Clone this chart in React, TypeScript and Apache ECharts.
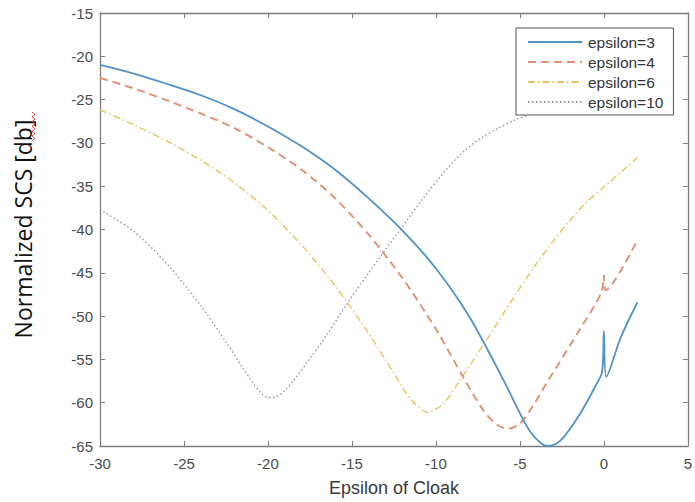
import React, { useEffect, useRef } from "react";
import * as echarts from "echarts";

// epsilon = 3 (solid blue)
const xEps3 = [-30, -28, -26, -24, -22, -20, -18, -16, -14, -12, -10, -8, -6, -5, -4.4, -3.9, -3.4, -2.9, -2.4, -1.45, -0.45, -0.1, 0, 0.15, 1, 2];
const yEps3 = [-21, -22.0, -23.2, -24.5, -26.1, -28.1, -30.4, -33.1, -36.4, -40.1, -44.5, -50.1, -57.3, -61.2, -63.3, -64.4, -65, -64.8, -64, -61.4, -57.9, -56.4, -51.7, -57, -52.5, -48.4];

// epsilon = 4 (dashed red)
const xEps4 = [-30, -28, -26, -24, -22, -20, -18, -16, -14, -12, -10, -8.3, -7.2, -6.4, -5.7, -5, -4.2, -3.4, -1.45, -0.15, 0, 0.1, 2];
const yEps4 = [-22.5, -23.7, -25.1, -26.6, -28.3, -30.5, -33.1, -36.4, -40.6, -45.6, -51.5, -57.3, -60.8, -62.5, -63, -62.4, -60.3, -57.7, -51.6, -47.3, -45.3, -47, -41.2];

// epsilon = 6 (dash-dot yellow)
const xEps6 = [-30, -28, -26, -24, -22, -20, -18, -16, -14, -12.5, -11.5, -10.5, -9.6, -8.6, -7.1, -5.35, -4, -3, -2, -1, 0, 2];
const yEps6 = [-26.2, -27.9, -29.8, -32, -34.6, -37.8, -41.8, -46.5, -52, -56.6, -59.6, -61.1, -60.2, -57.5, -53.1, -47.8, -43.9, -41.3, -38.9, -36.8, -35.1, -31.7];

// epsilon = 10 (dotted purple)
const xEps10 = [-30, -28, -26, -24, -22.5, -21.5, -21, -20.5, -20, -19.5, -19, -18.5, -17.5, -16.5, -15.4, -14, -12.2, -10.8, -9.3, -8.3, -7.35, -6.3, -5.35, -3.8, -2, 0, 2];
const yEps10 = [-37.7, -40.2, -44, -48.8, -53, -56, -57.4, -58.7, -59.4, -59.3, -58.6, -57.5, -54.9, -52.2, -48.9, -45, -40.2, -36.5, -32.9, -30.9, -29.5, -28.3, -27.4, -26.2, -24.5, -22.8, -21.3];

const seriesNames = ["epsilon=3", "epsilon=4", "epsilon=6", "epsilon=10"];
const xTitle = "Epsilon of Cloak";
const yTitle = "Normalized SCS [db]";

const pairs = (xs: number[], ys: number[]) => xs.map((x, i) => [x, ys[i]]);

export default function App() {
  const ref = useRef<HTMLDivElement>(null);
  useEffect(() => {
    if (!ref.current) return;
    const chart = echarts.init(ref.current, null, { renderer: "svg" });
    const axisColor = "#7d7d7d";
    const labelFont = "Liberation Sans, Arial, sans-serif";
    const xBase = {
      type: "value" as const,
      min: -30,
      max: 5,
      interval: 5,
      splitLine: { show: false },
      axisLine: { show: true, onZero: false, lineStyle: { color: axisColor, width: 1.3 } },
      axisTick: { show: true, inside: true, length: 5, lineStyle: { color: axisColor, width: 1 } },
    };
    const yBase = {
      type: "value" as const,
      min: -65,
      max: -15,
      interval: 5,
      splitLine: { show: false },
      axisLine: { show: true, onZero: false, lineStyle: { color: axisColor, width: 1.3 } },
      axisTick: { show: true, inside: true, length: 5, lineStyle: { color: axisColor, width: 1 } },
    };
    const squiggle: number[][] = [];
    for (let i = 0; i <= 12; i++) squiggle.push([i % 2 === 0 ? 32 : 35, 112 + i * 2.4]);

    chart.setOption({
      animation: false,
      backgroundColor: "#ffffff",
      grid: { left: 100, right: 5, top: 13, bottom: 56, containLabel: false },
      xAxis: [
        {
          ...xBase,
          position: "bottom",
          axisLabel: { color: "#4a4a4a", fontSize: 15, fontFamily: labelFont, margin: 10 },
          name: xTitle,
          nameLocation: "middle",
          nameGap: 33,
          nameTextStyle: { fontSize: 18, color: "#3a3a3a", fontFamily: labelFont },
        },
        { ...xBase, position: "top", axisLabel: { show: false } },
      ],
      yAxis: [
        {
          ...yBase,
          position: "left",
          axisLabel: { color: "#4a4a4a", fontSize: 15, fontFamily: labelFont, margin: 7 },
        },
        { ...yBase, position: "right", axisLabel: { show: false } },
      ],
      legend: {
        orient: "vertical",
        left: 516,
        top: 28,
        padding: [6, 10, 5, 11],
        itemWidth: 54,
        itemHeight: 14,
        itemGap: 4,
        backgroundColor: "#ffffff",
        borderColor: "#555555",
        borderWidth: 1,
        borderRadius: 0,
        itemStyle: { opacity: 0 },
        textStyle: { fontSize: 15.5, color: "#333333", fontFamily: labelFont, padding: [0, 0, 0, 1] },
        data: seriesNames,
      },
      series: [
        {
          name: seriesNames[0],
          type: "line",
          data: pairs(xEps3, yEps3),
          symbol: "none",
          smooth: 0.3,
          lineStyle: { color: "#5091c6", width: 1.8, type: "solid" },
          itemStyle: { color: "#5091c6" },
          z: 5,
        },
        {
          name: seriesNames[1],
          type: "line",
          data: pairs(xEps4, yEps4),
          symbol: "none",
          smooth: 0.3,
          lineStyle: { color: "#e08f74", width: 1.9, type: [8, 5] },
          itemStyle: { color: "#e08f74" },
          z: 4,
        },
        {
          name: seriesNames[2],
          type: "line",
          data: pairs(xEps6, yEps6),
          symbol: "none",
          smooth: 0.3,
          lineStyle: { color: "#e6c35c", width: 1.4, type: [7, 3, 1.5, 3] },
          itemStyle: { color: "#e6c35c" },
          z: 3,
        },
        {
          name: seriesNames[3],
          type: "line",
          data: pairs(xEps10, yEps10),
          symbol: "none",
          smooth: 0.3,
          lineStyle: { color: "#8f8aae", width: 1.3, type: [1.5, 2.5] },
          itemStyle: { color: "#8f8aae" },
          z: 2,
        },
      ],
      graphic: [
        {
          type: "text",
          x: 23,
          y: 229,
          rotation: Math.PI / 2,
          style: {
            text: yTitle,
            fontSize: 23,
            fontFamily: "Open Sans, Lato, sans-serif",
            fill: "#111111",
            align: "center",
            verticalAlign: "middle",
          },
        },
        {
          type: "polyline",
          shape: { points: squiggle },
          style: { stroke: "#e04040", lineWidth: 1, fill: "none" },
        },
      ],
    });
    return () => chart.dispose();
  }, []);
  return (
    <div
      ref={ref}
      style={{ position: "fixed", left: 0, top: 0, width: 695, height: 502 }}
    />
  );
}
